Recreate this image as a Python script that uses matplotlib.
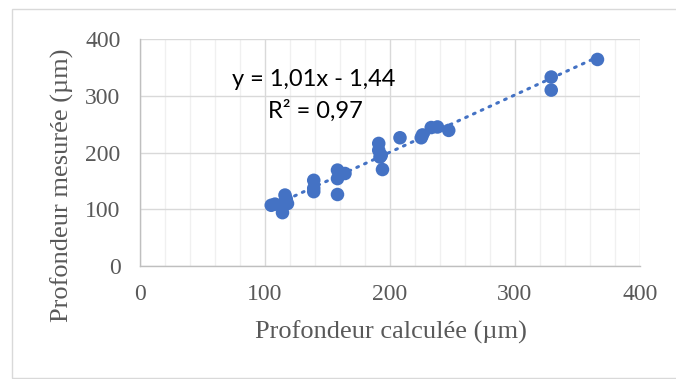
import matplotlib
matplotlib.use("Agg")
import matplotlib.pyplot as plt
import numpy as np
from matplotlib.patches import Rectangle

# Data
x_calc = [105, 108, 114, 116, 116, 117, 118, 139, 139, 139, 158, 158, 158, 164,
          191, 191, 192, 193, 194, 208, 225, 226, 233, 238, 247, 329, 329, 366]
y_mes = [107, 109, 94, 125, 113, 118, 110, 151, 131, 137, 126, 169, 154, 163,
         216, 204, 192, 195, 170, 226, 226, 231, 244, 245, 239, 333, 310, 364]
slope = 1.01
intercept = -1.44
r2_text = "R² = 0,97"
eq_text = "y = 1,01x - 1,44"
xticks = [0, 100, 200, 300, 400]
yticks = [0, 100, 200, 300, 400]

blue = "#4472C4"
grey_text = "#595959"

fig = plt.figure(figsize=(6.76, 3.79), dpi=100)
ax = fig.add_axes([0.2071, 0.2982, 0.7396, 0.5988])

ax.set_xlim(0, 400)
ax.set_ylim(0, 400)
ax.set_xticks(xticks)
ax.set_yticks(yticks)
ax.set_xticks(np.arange(0, 401, 20), minor=True)
ax.grid(True, which="major", axis="both", color="#d9d9d9", lw=1.0)
ax.grid(True, which="minor", axis="x", color="#f0f0f0", lw=1.0)
ax.set_axisbelow(True)
for s in ["top", "right"]:
    ax.spines[s].set_visible(False)
for s in ["left", "bottom"]:
    ax.spines[s].set_color("#bfbfbf")
    ax.spines[s].set_linewidth(1.0)
ax.tick_params(which="both", length=0)
ax.tick_params(axis="y", labelsize=17, labelcolor=grey_text, pad=14)
ax.tick_params(axis="x", labelsize=17, labelcolor=grey_text, pad=13)
for lab in ax.get_xticklabels() + ax.get_yticklabels():
    lab.set_fontfamily("Liberation Serif")

ax.set_xlabel("Profondeur calculée (µm)", fontsize=19, color=grey_text,
              family="Liberation Serif", va="center")
ax.set_ylabel("Profondeur mesurée (µm)", fontsize=19, color=grey_text,
              family="Liberation Serif", va="center")
ax.xaxis.set_label_coords(0.501, -0.294)
ax.yaxis.set_label_coords(-0.155, 0.355)

# trendline
xs = np.array([min(x_calc), max(x_calc)])
ax.plot(xs, slope * xs + intercept, color=blue, lw=2.2,
        linestyle=(0, (0.6, 2.2)), dash_capstyle="round", zorder=2)

ax.scatter(x_calc, y_mes, s=95, color=blue, edgecolors="none", zorder=3, clip_on=False)

fig.text(314 / 676, 1 - 80 / 379, eq_text, ha="center", va="center",
         fontsize=17, family="Lato", color="black")
fig.text(315 / 676, 1 - 111 / 379, r2_text, ha="center", va="center",
         fontsize=17, family="Lato", color="black")

fig.patches.append(Rectangle((12 / 676, 1.5 / 379), 1.0, 1 - 10.5 / 379,
                             transform=fig.transFigure, fill=False,
                             edgecolor="#d9d9d9", lw=1.0, figure=fig))

fig.savefig("out.png", dpi=100, facecolor="white")
